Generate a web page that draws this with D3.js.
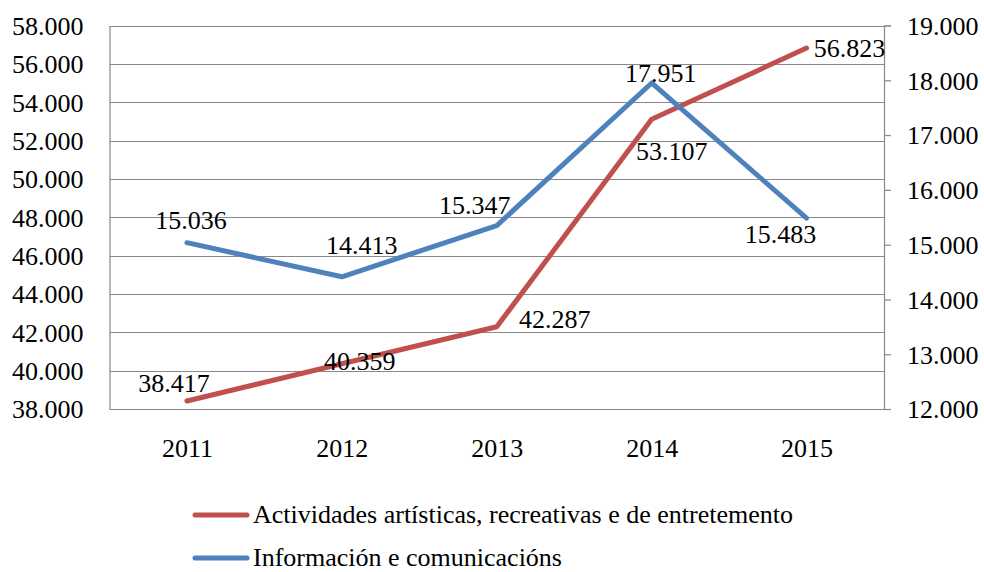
<!DOCTYPE html>
<html>
<head>
<meta charset="utf-8">
<script src="https://cdn.jsdelivr.net/npm/d3@7"></script>
<style>
  body { margin: 0; background: #fff; }
</style>
</head>
<body>
<svg id="chart"></svg>
<script>
// data
const years = ['2011', '2012', '2013', '2014', '2015'];
const actividades = [38417, 40359, 42287, 53107, 56823];
const informacion = [15036, 14413, 15347, 17951, 15483];
const leftTicks = [38000, 40000, 42000, 44000, 46000, 48000, 50000, 52000, 54000, 56000, 58000];
const rightTicks = [12000, 13000, 14000, 15000, 16000, 17000, 18000, 19000];
const seriesNames = ['Actividades artísticas, recreativas e de entretemento', 'Información e comunicacións'];

// where each value label sits relative to its point [dx, dy] (baseline)
const redLabelPos = [[-13, -9], [18, 6], [58, 1], [20, 41], [43, 9]];
const blueLabelPos = [[4, -14], [20, -23], [-22, -12], [9, -1], [-26, 25]];

const width = 984, height = 572;
const margin = {top: 25.5, right: 100, bottom: 163, left: 109.5};
const FONT = '"Liberation Serif"';
const FS = '26px';

const svg = d3.select('#chart')
  .attr('width', width)
  .attr('height', height);

const fmt = v => d3.format(',')(v).replace(/,/g, '.');

const xScale = d3.scalePoint()
  .domain(years)
  .range([margin.left, width - margin.right])
  .padding(0.5);

const yLeft = d3.scaleLinear()
  .domain([38000, 58000])
  .range([height - margin.bottom, margin.top]);

const yRight = d3.scaleLinear()
  .domain([12000, 19000])
  .range([height - margin.bottom, margin.top]);

const plotRight = width - margin.right;
const gridColor = '#898989';

// horizontal gridlines
svg.append('g')
  .selectAll('line')
  .data(leftTicks)
  .enter()
  .append('line')
  .attr('x1', margin.left)
  .attr('x2', plotRight)
  .attr('y1', d => Math.round(yLeft(d)) + 0.5)
  .attr('y2', d => Math.round(yLeft(d)) + 0.5)
  .style('stroke', gridColor)
  .style('stroke-width', 1.2);

// left axis
const leftAxis = svg.append('g')
  .attr('transform', `translate(${margin.left}, 0)`)
  .call(d3.axisLeft(yLeft).tickValues(leftTicks).tickSize(0).tickPadding(26).tickFormat(fmt));
leftAxis.attr('font-family', null).attr('font-size', null);
leftAxis.selectAll('text').style('font-size', FS).style('font-family', FONT).attr('dy', '0.34em');
leftAxis.select('.domain').style('stroke', gridColor).style('stroke-width', 1.2);

// right axis
const rightAxis = svg.append('g')
  .attr('transform', `translate(${plotRight}, 0)`)
  .call(d3.axisRight(yRight).tickValues(rightTicks).tickSizeInner(7).tickSizeOuter(7).tickPadding(16).tickFormat(fmt));
rightAxis.attr('font-family', null).attr('font-size', null);
rightAxis.selectAll('text').style('font-size', FS).style('font-family', FONT).attr('dy', '0.34em');
rightAxis.selectAll('line').style('stroke', gridColor).style('stroke-width', 1.2);
rightAxis.select('.domain').style('stroke', gridColor).style('stroke-width', 1.2);

// bottom axis (labels only)
const bottomAxis = svg.append('g')
  .attr('transform', `translate(0, ${height - margin.bottom})`)
  .call(d3.axisBottom(xScale).tickSize(0).tickPadding(30));
bottomAxis.attr('font-family', null).attr('font-size', null);
bottomAxis.select('.domain').remove();
bottomAxis.selectAll('text').style('font-size', FS).style('font-family', FONT);

// series lines
const series = [
  {name: seriesNames[0], values: actividades, y: yLeft, color: '#C0504D', labels: redLabelPos},
  {name: seriesNames[1], values: informacion, y: yRight, color: '#4F81BD', labels: blueLabelPos}
];

series.forEach(s => {
  const line = d3.line()
    .x((d, i) => xScale(years[i]))
    .y(d => s.y(d));

  svg.append('path')
    .datum(s.values)
    .attr('d', line)
    .style('fill', 'none')
    .style('stroke', s.color)
    .style('stroke-width', 5)
    .style('stroke-linecap', 'round')
    .style('stroke-linejoin', 'round');
});

series.forEach(s => {
  svg.append('g')
    .selectAll('text')
    .data(s.values)
    .enter()
    .append('text')
    .attr('x', (d, i) => xScale(years[i]) + s.labels[i][0])
    .attr('y', (d, i) => s.y(d) + s.labels[i][1])
    .attr('text-anchor', 'middle')
    .style('font-family', FONT)
    .style('font-size', FS)
    .text(fmt);
});

// legend
const legendY = [515, 558];
const legend = svg.append('g');
series.forEach((s, i) => {
  legend.append('line')
    .attr('x1', 195).attr('x2', 247)
    .attr('y1', legendY[i]).attr('y2', legendY[i])
    .style('stroke', s.color)
    .style('stroke-width', 5)
    .style('stroke-linecap', 'round');
  legend.append('text')
    .attr('x', 253)
    .attr('y', legendY[i] + 8)
    .style('font-family', FONT)
    .style('font-size', FS)
    .text(s.name);
});
</script>
</body>
</html>
